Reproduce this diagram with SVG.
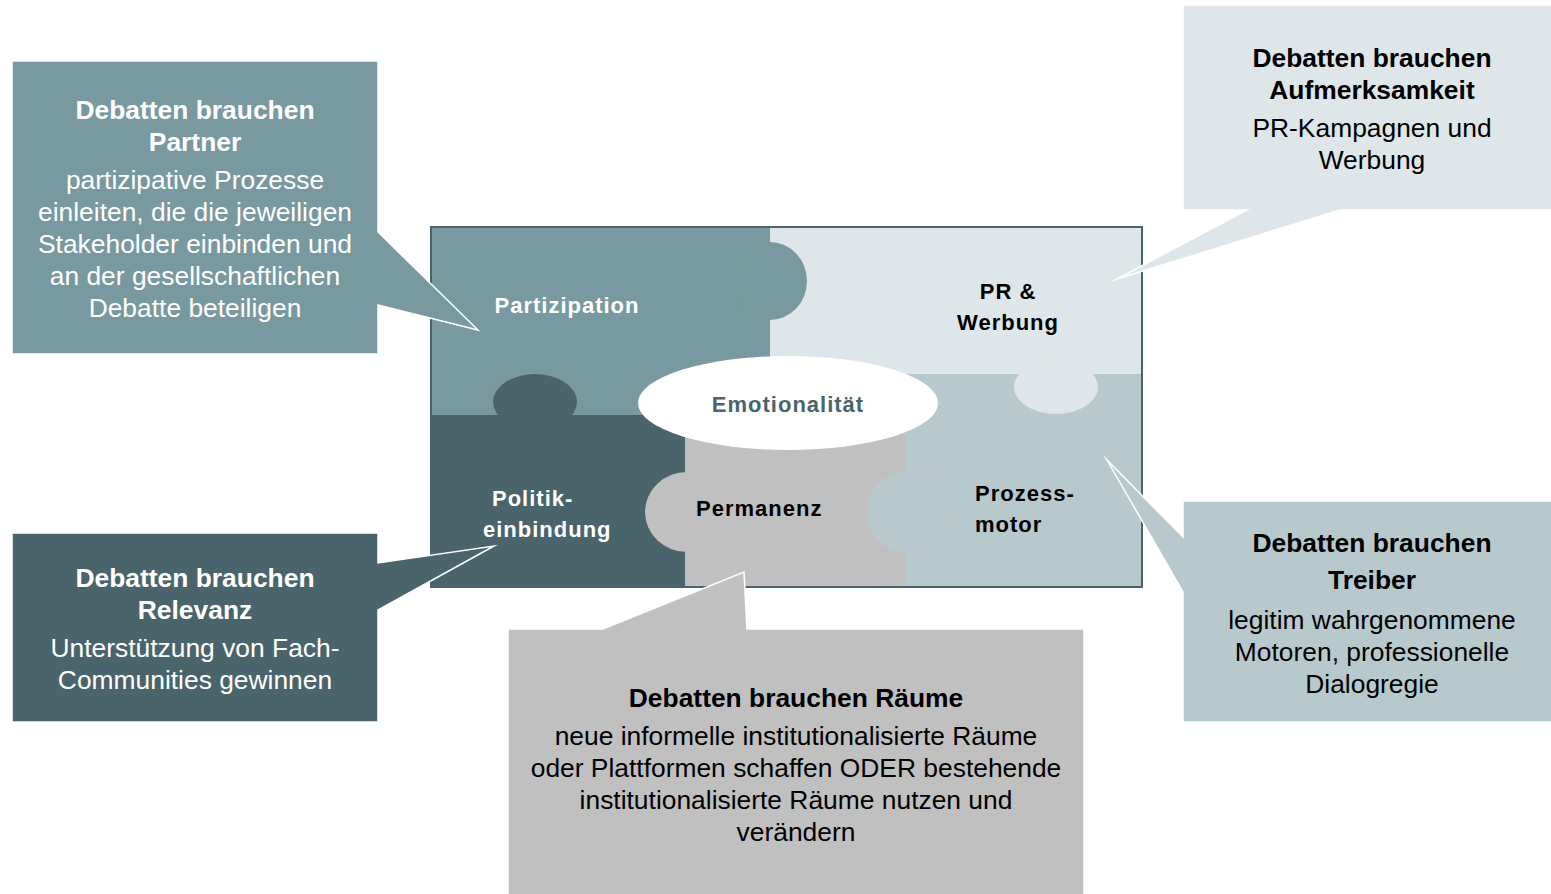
<svg xmlns="http://www.w3.org/2000/svg" width="1551" height="894" viewBox="0 0 1551 894">
<style>
text{font-family:"Liberation Sans",Arial,sans-serif;}
.pl{font-size:22px;font-weight:bold;letter-spacing:1px;}
.t{font-size:26.4px;font-weight:bold;text-anchor:middle;}
.b{font-size:26.4px;text-anchor:middle;}
.w{fill:#ffffff;}
.k{fill:#000000;}
.co{stroke:#ffffff;stroke-width:1.5;stroke-linejoin:miter;stroke-miterlimit:20;}
</style>
<rect width="1551" height="894" fill="#ffffff"/>
<g id="puzzle">
  <g id="pr-werbung">
    <rect x="770" y="227" width="372" height="147" fill="#dfe6e9"/>
  </g>
  <g id="partizipation">
    <rect x="431" y="227" width="339" height="188" fill="#78999f"/>
    <ellipse cx="770" cy="281" rx="37" ry="39" fill="#78999f"/>
  </g>
  <g id="prozessmotor">
    <rect x="906" y="374" width="236" height="213" fill="#b8c9cd"/>
    <ellipse cx="1056" cy="387" rx="42" ry="27" fill="#dfe6e9"/>
  </g>
  <g id="politik">
    <rect x="431" y="415" width="254" height="172" fill="#4a646b"/>
    <ellipse cx="535" cy="402" rx="42" ry="28" fill="#4a646b"/>
  </g>
  <g id="permanenz">
    <rect x="685" y="415" width="221" height="172" fill="#c0c0c0"/>
    <ellipse cx="687" cy="512" rx="42" ry="40" fill="#c0c0c0"/>
    <ellipse cx="906" cy="512" rx="39" ry="40" fill="#b8c9cd"/>
  </g>
  <rect x="431" y="227" width="711" height="360" fill="none" stroke="#4a646b" stroke-width="2"/>
  <g id="emotionalitaet">
    <ellipse cx="788" cy="403" rx="150" ry="47" fill="#ffffff"/>
    <text x="788" y="412" class="pl" text-anchor="middle" fill="#4a646b">Emotionalität</text>
  </g>
  <text x="567" y="313" class="pl w" text-anchor="middle">Partizipation</text>
  <text x="1008" y="299" class="pl k" text-anchor="middle">PR &amp;</text>
  <text x="1008" y="330" class="pl k" text-anchor="middle">Werbung</text>
  <text x="492" y="506" class="pl w">Politik-</text>
  <text x="483" y="537" class="pl w">einbindung</text>
  <text x="696" y="516" class="pl k">Permanenz</text>
  <text x="975" y="501" class="pl k">Prozess-</text>
  <text x="975" y="532" class="pl k">motor</text>
</g>
<g id="connectors">
</g>
<g id="callout-partner">
  <path class="co" fill="#78999f" d="M12,61 H378 V232 L478,330 L378,305 V354 H12 Z"/>
  <text x="195" y="119" class="t w">Debatten brauchen</text>
  <text x="195" y="151" class="t w">Partner</text>
  <text x="195" y="189" class="b w">partizipative Prozesse</text>
  <text x="195" y="221" class="b w">einleiten, die die jeweiligen</text>
  <text x="195" y="253" class="b w">Stakeholder einbinden und</text>
  <text x="195" y="285" class="b w">an der gesellschaftlichen</text>
  <text x="195" y="317" class="b w">Debatte beteiligen</text>
</g>
<g id="callout-aufmerksamkeit">
  <path class="co" fill="#dfe6e9" d="M1183,5 H1552 V210 H1340 L1117,279 L1247,210 H1183 Z"/>
  <text x="1372" y="67" class="t k">Debatten brauchen</text>
  <text x="1372" y="99" class="t k">Aufmerksamkeit</text>
  <text x="1372" y="137" class="b k">PR-Kampagnen und</text>
  <text x="1372" y="169" class="b k">Werbung</text>
</g>
<g id="callout-treiber">
  <path class="co" fill="#b8c9cd" d="M1183,501 H1552 V722 H1183 V592 L1107,460 L1183,537 Z"/>
  <text x="1372" y="552" class="t k">Debatten brauchen</text>
  <text x="1372" y="589" class="t k">Treiber</text>
  <text x="1372" y="629" class="b k">legitim wahrgenommene</text>
  <text x="1372" y="661" class="b k">Motoren, professionelle</text>
  <text x="1372" y="693" class="b k">Dialogregie</text>
</g>
<g id="callout-relevanz">
  <path class="co" fill="#4a646b" d="M12,533 H378 V563 L494,546 L378,610 V722 H12 Z"/>
  <text x="195" y="587" class="t w">Debatten brauchen</text>
  <text x="195" y="619" class="t w">Relevanz</text>
  <text x="195" y="657" class="b w">Unterstützung von Fach-</text>
  <text x="195" y="689" class="b w">Communities gewinnen</text>
</g>
<g id="callout-raeume">
  <path class="co" fill="#c0c0c0" d="M508,629 H603 L744,572 L747,629 H1084 V895 H508 Z"/>
  <text x="796" y="707" class="t k">Debatten brauchen Räume</text>
  <text x="796" y="745" class="b k">neue informelle institutionalisierte Räume</text>
  <text x="796" y="777" class="b k">oder Plattformen schaffen ODER bestehende</text>
  <text x="796" y="809" class="b k">institutionalisierte Räume nutzen und</text>
  <text x="796" y="841" class="b k">verändern</text>
</g>
</svg>
